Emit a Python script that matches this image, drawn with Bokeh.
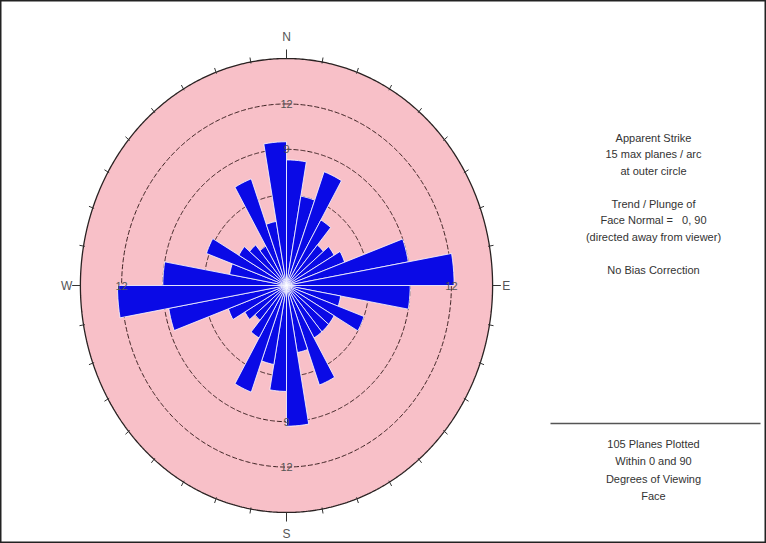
import numpy as np
from bokeh.plotting import figure
from bokeh.models import Range1d, Label
from bokeh.embed import file_html
from bokeh.resources import INLINE

# Rose diagram of apparent strike: 10-degree bins clockwise from north
bin_start = list(range(0, 360, 10))
counts = [8.3, 6.0, 8.0, 5.0, 3.5, 4.0, 4.5, 9.0, 12.2,
          9.0, 4.0, 6.0, 4.0, 4.0, 4.0, 7.0, 4.5, 9.3,
          7.0, 5.3, 7.5, 4.0, 3.0, 3.5, 4.5, 8.7, 12.3,
          9.0, 4.2, 6.2, 4.0, 3.5, 3.0, 7.5, 4.3, 9.5]
bin_width = 10
ring_values = [3, 6, 9, 12]
outer_value = 15
ring_labels = [("12", 0, 12), ("9", 0, 9), ("9", 0, -9), ("12", 0, -12),
               ("12", -12, 0), ("12", 12, 0)]
compass = [("N", 0), ("E", 90), ("S", 180), ("W", 270)]
nb = "\u00a0"
info_top = ["Apparent Strike", "15 max planes / arc", "at outer circle", "",
            "Trend / Plunge of", "Face Normal =" + nb * 3 + "0, 90", "(directed away from viewer)",
            "", "No Bias Correction"]
info_bottom = ["105 Planes Plotted", "Within 0 and 90", "Degrees of Viewing", "Face"]

W, H = 766, 543
CX, CY = 286.0, 285.0      # pixel centre of the stereonet
SX, SY = 13.74, 15.13      # pixels per count unit horizontally / vertically


def px_x(x):
    return (x - CX) / SX


def px_y(y):
    return (CY - y) / SY


p = figure(width=W, height=H, output_backend="svg", toolbar_location=None,
           x_range=Range1d(px_x(0), px_x(W)), y_range=Range1d(px_y(H), px_y(0)),
           x_axis_type=None, y_axis_type=None, min_border=0)
p.grid.visible = False
p.outline_line_color = "#222222"
p.outline_line_width = 2
p.background_fill_color = "white"
p.border_fill_color = "white"


def polar(r, deg):
    t = np.radians(deg)
    return r * np.sin(t), r * np.cos(t)


# pink disc with the outer circle
t = np.linspace(0, 360, 721)
ox, oy = polar(outer_value, t)
p.patch(ox, oy, fill_color="#F8C0C8", line_color="#2a2222", line_width=1.3)

# dashed count rings
for rv in ring_values:
    rx, ry = polar(rv, t)
    p.line(rx, ry, line_color="#3a2020", line_width=1, line_dash="5 2")

# tick marks every 10 degrees on the outer circle
for a in range(0, 360, 10):
    if a % 90 == 0:
        r0, r1 = 15.0, 15.6
    else:
        r0, r1 = 14.9, 15.3
    x0, y0 = polar(r0, a)
    x1, y1 = polar(r1, a)
    p.line([x0, x1], [y0, y1], line_color="#333333", line_width=1)

# petals
xs, ys = [], []
for a0, c in zip(bin_start, counts):
    arc = np.linspace(a0, a0 + bin_width, 6)
    px_, py_ = polar(c, arc)
    xs.append([0.0] + list(px_))
    ys.append([0.0] + list(py_))
p.patches(xs, ys, fill_color="#0a0ae6", line_color="white", line_width=0.8)

# ring value labels
for txt, lx, ly in ring_labels:
    p.add_layout(Label(x=lx, y=ly, text=txt, text_align="center", text_baseline="middle",
                       text_font="Liberation Sans", text_font_size="11px", text_color="#555555"))

# compass letters
for txt, a in compass:
    lx, ly = polar(16.4, a)
    if a in (90, 270):
        lx, ly = polar(16.0, a)
    p.add_layout(Label(x=lx, y=ly, text=txt, text_align="center", text_baseline="middle",
                       text_font="Liberation Sans", text_font_size="12px", text_color="#555555"))

# info text on the right
tx = px_x(653)
y0 = 137
for i, line in enumerate(info_top):
    if line:
        p.add_layout(Label(x=tx, y=px_y(y0 + i * 16.5), text=line, text_align="center",
                           text_baseline="middle", text_font="Liberation Sans",
                           text_font_size="11px", text_color="#333333"))

p.line([px_x(550), px_x(760)], [px_y(423), px_y(423)], line_color="#555555", line_width=1.3)

y1 = 443
for i, line in enumerate(info_bottom):
    p.add_layout(Label(x=tx, y=px_y(y1 + i * 17.5), text=line, text_align="center",
                       text_baseline="middle", text_font="Liberation Sans",
                       text_font_size="11px", text_color="#333333"))

open("out.html", "w").write(file_html(p, INLINE))
